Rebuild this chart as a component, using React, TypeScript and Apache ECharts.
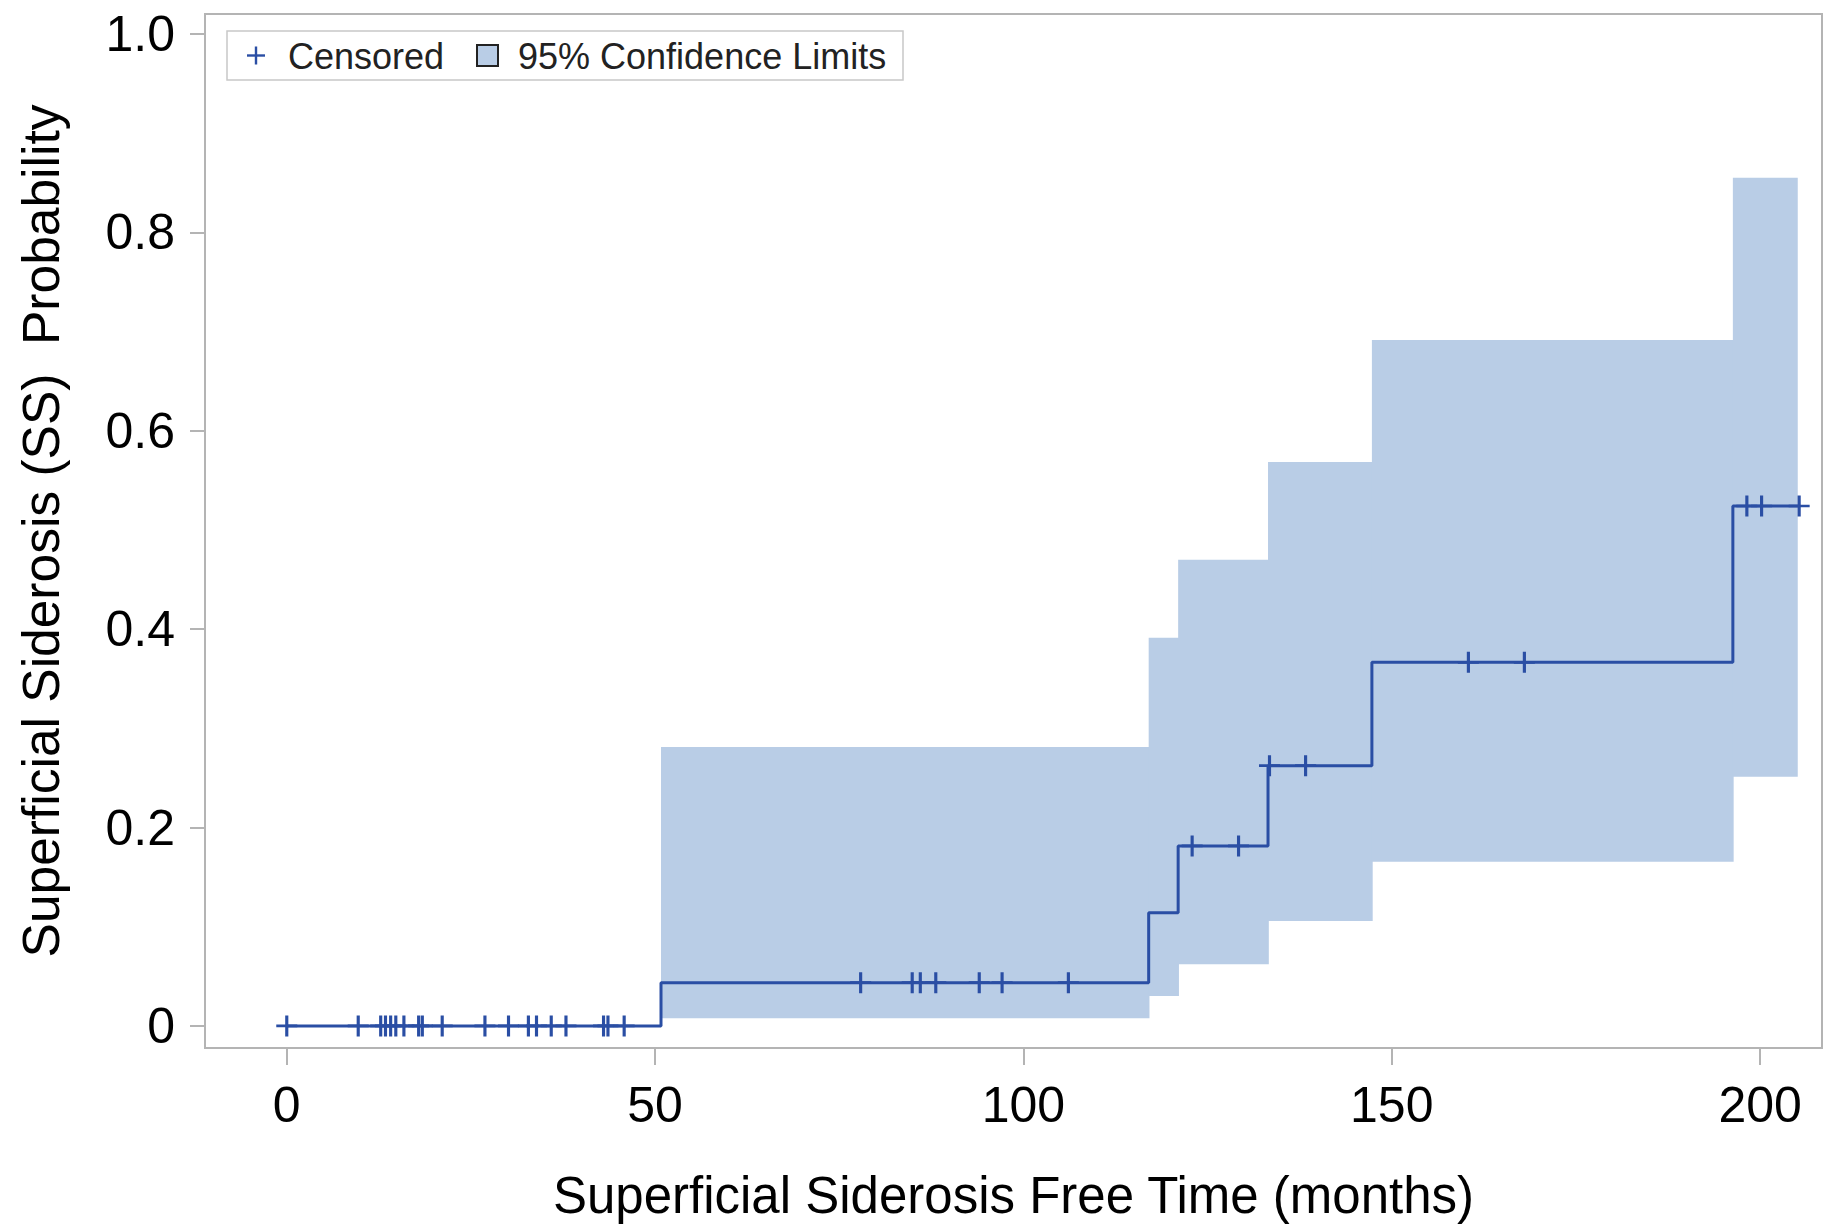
import React, { useEffect, useRef } from "react";
import * as echarts from "echarts";

// ---- data ----
const eventTimes = [0, 50.8, 117.0, 121.0, 133.2, 147.3, 196.3, 205.3];
const eventProb = [0, 0.0436, 0.1142, 0.1815, 0.2624, 0.3666, 0.5242, 0.5242];

const censorTimes = [
  0, 9.7, 12.75, 13.4, 14.1, 14.8, 15.9, 17.9, 18.4, 21.1, 26.9, 30.1, 32.8, 33.9, 35.9, 37.9, 43.0, 43.6, 45.8,
  77.9, 84.9, 86.0, 88.1, 94.0, 97.1, 106.1,
  122.9, 129.2,
  133.4, 138.3,
  160.4, 168.0,
  198.2, 200.2, 205.3,
];

const bandStart = [50.8, 117.0, 121.0, 133.2, 147.3, 196.3];
const bandEnd = [117.0, 121.0, 133.2, 147.3, 196.3, 205.0];
const bandLower = [0.0078, 0.0302, 0.0622, 0.1058, 0.1656, 0.2513];
const bandUpper = [0.2812, 0.3913, 0.47, 0.5685, 0.6915, 0.855];

const xTicks = [0, 50, 100, 150, 200];
const yTicks = [0, 0.2, 0.4, 0.6, 0.8, 1.0];

const LINE = "#2a4ea4";
const BAND = "#b9cde6";

function stepValue(t: number): number {
  let v = eventProb[0];
  for (let i = 0; i < eventTimes.length; i++) {
    if (eventTimes[i] <= t) v = eventProb[i];
  }
  return v;
}

const PLUS = "path://M8.5,0 H11.5 V8.7 H20 V11.3 H11.5 V20 H8.5 V11.3 H0 V8.7 H8.5 Z";

export default function App() {
  const ref = useRef<HTMLDivElement>(null);
  useEffect(() => {
    if (!ref.current) return;
    const chart = echarts.init(ref.current, undefined, { renderer: "svg" });
    const bandData = bandStart.map((s, i) => [s, bandEnd[i], bandLower[i], bandUpper[i]]);
    const lineData = eventTimes.map((t, i) => [t, eventProb[i]]);
    const censorData = censorTimes.map((t) => [t, stepValue(t)]);
    const font = "'Liberation Sans', Arial, sans-serif";
    chart.setOption({
      animation: false,
      backgroundColor: "#ffffff",
      grid: {
        left: 205,
        right: 3,
        top: 14,
        bottom: 180,
        show: true,
        borderColor: "#b4b4b4",
        borderWidth: 2,
        backgroundColor: "#ffffff",
      },
      xAxis: {
        type: "value",
        min: -11.1,
        max: 208.4,
        name: "Superficial Siderosis Free Time (months)",
        nameLocation: "middle",
        nameGap: 122,
        nameTextStyle: { fontFamily: font, fontSize: 51, color: "#000" },
        axisLine: { show: false, onZero: false },
        splitLine: { show: false },
        axisTick: {
          show: true,
          inside: false,
          length: 17,
          customValues: xTicks,
          lineStyle: { color: "#b4b4b4", width: 2 },
        },
        axisLabel: {
          customValues: xTicks,
          margin: 32,
          fontFamily: font,
          fontSize: 50,
          color: "#000",
        },
      },
      yAxis: {
        type: "value",
        min: -0.0222,
        max: 1.0202,
        name: "Superficial Siderosis (SS)  Probability",
        nameLocation: "middle",
        nameGap: 138,
        nameRotate: 90,
        nameTextStyle: { fontFamily: font, fontSize: 51.5, color: "#000" },
        axisLine: { show: false, onZero: false },
        splitLine: { show: false },
        axisTick: {
          show: true,
          inside: false,
          length: 15,
          customValues: yTicks,
          lineStyle: { color: "#b4b4b4", width: 2 },
        },
        axisLabel: {
          customValues: yTicks,
          margin: 30,
          fontFamily: font,
          fontSize: 50,
          color: "#000",
          formatter: (v: number) => (v === 0 ? "0" : v.toFixed(1)),
        },
      },
      series: [
        {
          type: "custom",
          name: "95% Confidence Limits",
          data: bandData,
          encode: { x: [0, 1], y: [2, 3] },
          z: 1,
          silent: true,
          renderItem: (params: any, api: any) => {
            const p0 = api.coord([api.value(0), api.value(3)]);
            const p1 = api.coord([api.value(1), api.value(2)]);
            return {
              type: "rect",
              shape: {
                x: p0[0],
                y: p0[1],
                width: p1[0] - p0[0] + 0.8,
                height: p1[1] - p0[1],
              },
              style: { fill: BAND },
            };
          },
        },
        {
          type: "line",
          name: "Failure",
          data: lineData,
          step: "end",
          showSymbol: false,
          symbol: "none",
          z: 3,
          lineStyle: { color: LINE, width: 3 },
          silent: true,
        },
        {
          type: "scatter",
          name: "Censored",
          data: censorData,
          symbol: PLUS,
          symbolSize: [21, 21],
          z: 4,
          itemStyle: { color: LINE, opacity: 1 },
          silent: true,
        },
      ],
      graphic: [
        {
          type: "rect",
          shape: { x: 227, y: 31, width: 676, height: 49 },
          style: { fill: "#ffffff", stroke: "#c8c8c8", lineWidth: 1.5 },
          z: 10,
        },
        {
          type: "line",
          shape: { x1: 247, y1: 55.5, x2: 265, y2: 55.5 },
          style: { stroke: LINE, lineWidth: 2.4 },
          z: 11,
        },
        {
          type: "line",
          shape: { x1: 256, y1: 46.5, x2: 256, y2: 64.5 },
          style: { stroke: LINE, lineWidth: 2.4 },
          z: 11,
        },
        {
          type: "text",
          x: 288,
          y: 56,
          style: {
            text: "Censored",
            fontFamily: font,
            fontSize: 36,
            fill: "#222",
            verticalAlign: "middle",
            align: "left",
          },
          z: 11,
        },
        {
          type: "rect",
          shape: { x: 477, y: 45, width: 21, height: 21 },
          style: { fill: BAND, stroke: "#222", lineWidth: 2 },
          z: 11,
        },
        {
          type: "text",
          x: 518,
          y: 56,
          style: {
            text: "95% Confidence Limits",
            fontFamily: font,
            fontSize: 36,
            fill: "#222",
            verticalAlign: "middle",
            align: "left",
          },
          z: 11,
        },
      ],
    });
    return () => chart.dispose();
  }, []);
  return (
    <div
      ref={ref}
      style={{ position: "fixed", left: 0, top: 0, width: 1825, height: 1228 }}
    />
  );
}
